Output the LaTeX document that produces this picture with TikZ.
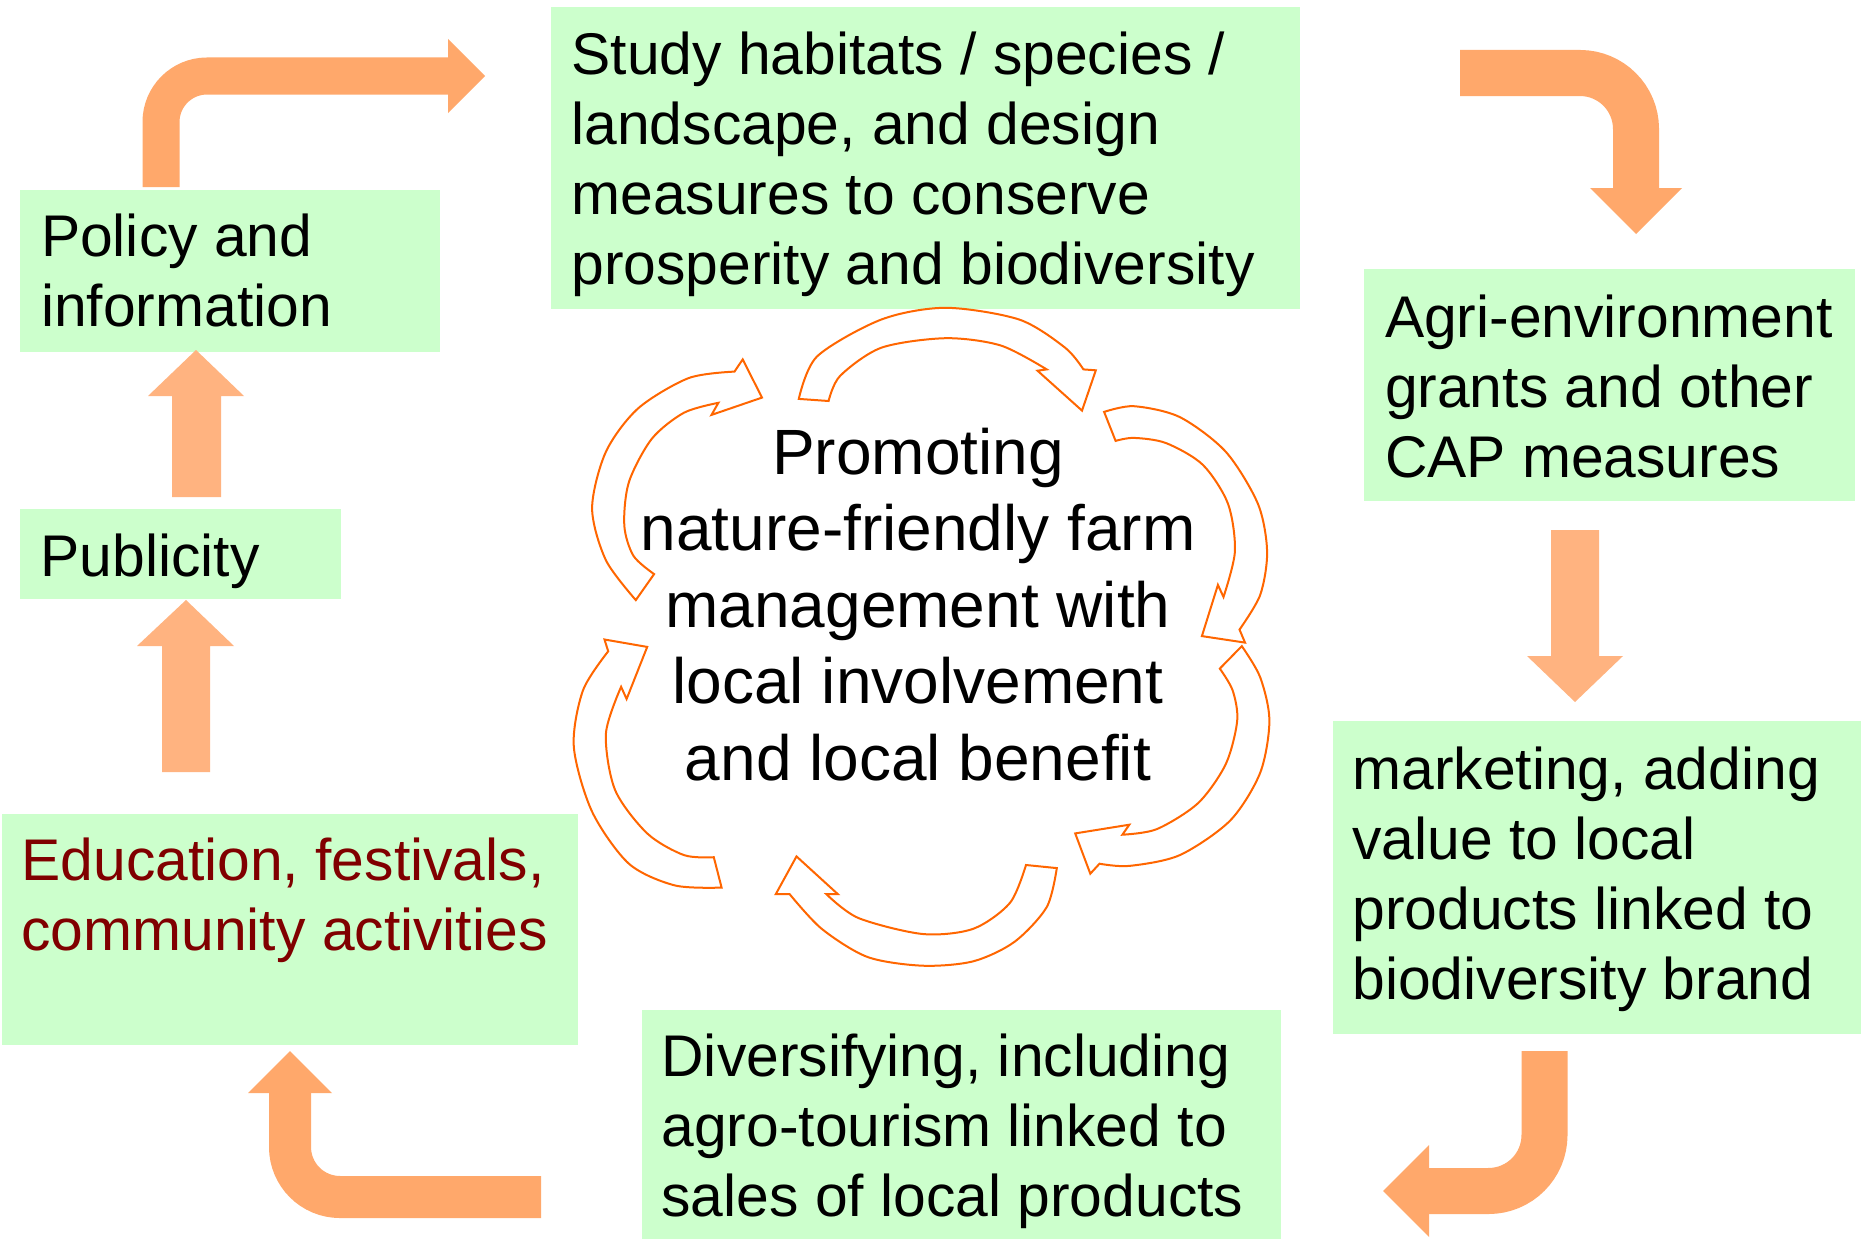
\documentclass[tikz,border=0pt]{standalone}
\usepackage{fontspec}
\setmainfont{Liberation Sans}
\definecolor{boxgreen}{HTML}{CCFFCC}
\definecolor{bentorange}{HTML}{FFA86B}
\definecolor{straightorange}{HTML}{FFB380}
\definecolor{cycleline}{HTML}{FF6600}
\definecolor{darkred}{HTML}{800000}
\begin{document}
\begin{tikzpicture}[x=1pt,y=-1pt,
  greenbox/.style={rectangle, fill=boxgreen, draw=none, inner sep=0pt, outer sep=0pt, anchor=north west},
  boxtext/.style={anchor=north west, inner sep=0pt, outer sep=0pt, align=left, font=\fontsize{58.8}{70}\selectfont},
  centertext/.style={anchor=north, inner sep=0pt, outer sep=0pt, align=center, font=\fontsize{64}{76.5}\selectfont},
  bentshaft/.style={draw=bentorange, line cap=butt, line width=#1},
  bentshaft/.default=40pt,
  benthead/.style={fill=bentorange, draw=none},
  straightarrow/.style={fill=straightorange, draw=none},
  cyclearrow/.style={draw=cycleline, fill=white, line width=2pt, line join=miter}
]
\useasboundingbox (0,0) rectangle (1865,1239);
\fill[white] (0,0) rectangle (1865,1239);

% boxes
\node[greenbox, minimum width=749pt, minimum height=302pt] (study) at (551,7) {};
\node[greenbox, minimum width=491pt, minimum height=232pt] (agri) at (1364,269) {};
\node[greenbox, minimum width=528pt, minimum height=313pt] (market) at (1333,721) {};
\node[greenbox, minimum width=639pt, minimum height=229pt] (divers) at (642,1010) {};
\node[greenbox, minimum width=576pt, minimum height=231pt] (educ) at (2,814) {};
\node[greenbox, minimum width=321pt, minimum height=90pt] (public) at (20,509) {};
\node[greenbox, minimum width=420pt, minimum height=162pt] (policy) at (20,190) {};

% box texts
\node[boxtext] (studyT) at (571.5,32) {Study habitats / species /\\landscape, and design\\measures to conserve\\prosperity and biodiversity};
\node[boxtext] (agriT) at (1385,295) {Agri-environment\\grants and other\\CAP measures};
\node[boxtext] (marketT) at (1352.5,747) {marketing, adding\\value to local\\products linked to\\biodiversity brand};
\node[boxtext] (diversT) at (661.5,1034) {Diversifying, including\\agro-tourism linked to\\sales of local products};
\node[boxtext, text=darkred] (educT) at (21.5,838) {Education, festivals,\\community activities};
\node[boxtext] (publicT) at (40.5,534) {Publicity};
\node[boxtext] (policyT) at (41,214) {Policy and\\information};

% bent arrows
\coordinate (b1s) at (161,187);
\coordinate (b1c) at (161,76);
\coordinate (b1e) at (449,76);
\draw[bentshaft=37pt, rounded corners=46pt] (b1s) -- (b1c) -- (b1e);
\fill[benthead] (448,39) -- (485,76) -- (448,113) -- cycle;

\coordinate (b2s) at (1460,73);
\coordinate (b2c) at (1636,73);
\coordinate (b2e) at (1636,189);
\draw[bentshaft=46pt, rounded corners=56pt] (b2s) -- (b2c) -- (b2e);
\fill[benthead] (1590,188) -- (1682,188) -- (1636,234) -- cycle;

\coordinate (b3s) at (1544.5,1051);
\coordinate (b3c) at (1544.5,1191);
\coordinate (b3e) at (1428,1191);
\draw[bentshaft=46pt, rounded corners=56pt] (b3s) -- (b3c) -- (b3e);
\fill[benthead] (1429,1145) -- (1383,1191) -- (1429,1237) -- cycle;

\coordinate (b4s) at (541,1197);
\coordinate (b4c) at (290,1197);
\coordinate (b4e) at (290,1092);
\draw[bentshaft=42pt, rounded corners=50pt] (b4s) -- (b4c) -- (b4e);
\fill[benthead] (248,1093) -- (290,1051) -- (332,1093) -- cycle;

% straight arrows
\fill[straightarrow] (172,497) -- (172,396) -- (148,396) -- (196,350) -- (244,396) -- (221,396) -- (221,497) -- cycle;
\fill[straightarrow] (162,772) -- (162,646) -- (137,646) -- (186,600) -- (234,646) -- (210,646) -- (210,772) -- cycle;
\fill[straightarrow] (1551,530) -- (1551,656) -- (1527,656) -- (1575,702) -- (1623,656) -- (1599,656) -- (1599,530) -- cycle;

% cycle arrows
\draw[cyclearrow] plot[smooth] coordinates {(798.8,398.9) (817.1,356.4) (881.4,319.5) (945.7,307.8) (1019.1,319.5) (1065.1,347.7) (1083.4,369.4)}
  -- (1095.8,370.3) -- (1082.0,410.6) -- (1037.5,370.7) -- (1046.7,369.4)
  -- plot[smooth] coordinates {(1046.7,369.4) (1000.8,345.5) (945.7,338.2) (881.4,347.7) (840.1,375.9) (828.6,401.0)} -- cycle;

\draw[cyclearrow] plot[smooth] coordinates {(1104.1,411.9) (1133.9,406.2) (1179.8,417.1) (1225.8,451.8) (1257.9,503.8) (1267.1,551.5) (1260.2,594.9) (1239.5,629.6)}
  -- (1245.0,642.6) -- (1201.9,636.1) -- (1217.9,584.9) -- (1223.5,597.0)
  -- plot[smooth] coordinates {(1223.5,597.0) (1234.9,551.5) (1228.0,503.8) (1202.8,464.8) (1166.1,443.1) (1133.9,437.9) (1115.6,440.9)} -- cycle;

\draw[cyclearrow] plot[smooth] coordinates {(1241.8,646.1) (1260.2,677.3) (1269.4,720.6) (1260.2,772.7) (1230.3,820.4) (1179.8,855.1) (1129.3,865.9) (1099.5,863.7)}
  -- (1090.3,873.7) -- (1075.2,833.4) -- (1129.3,824.7) -- (1122.4,834.7)
  -- plot[smooth] coordinates {(1122.4,834.7) (1156.9,829.1) (1198.2,803.0) (1225.8,764.0) (1237.2,720.6) (1232.6,690.3) (1219.8,668.6)} -- cycle;

\draw[cyclearrow] plot[smooth] coordinates {(1056.8,868.1) (1046.7,907.1) (1014.5,941.8) (973.2,961.3) (922.7,965.7) (867.6,957.0) (821.7,928.8) (789.6,894.1)}
  -- (775.8,894.1) -- (796.5,856.4) -- (837.8,894.1) -- (826.3,894.1)
  -- plot[smooth] coordinates {(826.3,894.1) (858.4,918.0) (922.7,934.0) (973.2,928.8) (1010.0,902.8) (1026.0,865.0)} -- cycle;

\draw[cyclearrow] plot[smooth] coordinates {(721.6,887.6) (674.8,885.4) (628.9,863.7) (592.1,811.7) (573.8,746.7) (583.0,690.3) (608.2,651.3)}
  -- (604.5,639.5) -- (647.2,646.9) -- (626.6,699.0) -- (621.1,686.8)
  -- plot[smooth] coordinates {(621.1,686.8) (605.9,733.7) (615.1,790.0) (647.2,833.4) (684.0,855.1) (713.8,857.2)} -- cycle;

\draw[cyclearrow] plot[smooth] coordinates {(635.8,600.1) (605.9,560.2) (592.1,508.2) (605.9,451.8) (638.1,408.4) (688.6,378.1) (734.5,371.6)}
  -- (742.7,359.4) -- (762.0,397.6) -- (711.5,414.9) -- (718.4,402.8)
  -- plot[smooth] coordinates {(718.4,402.8) (684.0,412.7) (651.8,438.8) (628.9,482.1) (624.3,525.5) (633.5,555.9) (654.1,574.1)} -- cycle;

% centre text
\node[centertext] (centre) at (918,428) {Promoting\\nature-friendly farm\\management with\\local involvement\\and local benefit};
\end{tikzpicture}
\end{document}
